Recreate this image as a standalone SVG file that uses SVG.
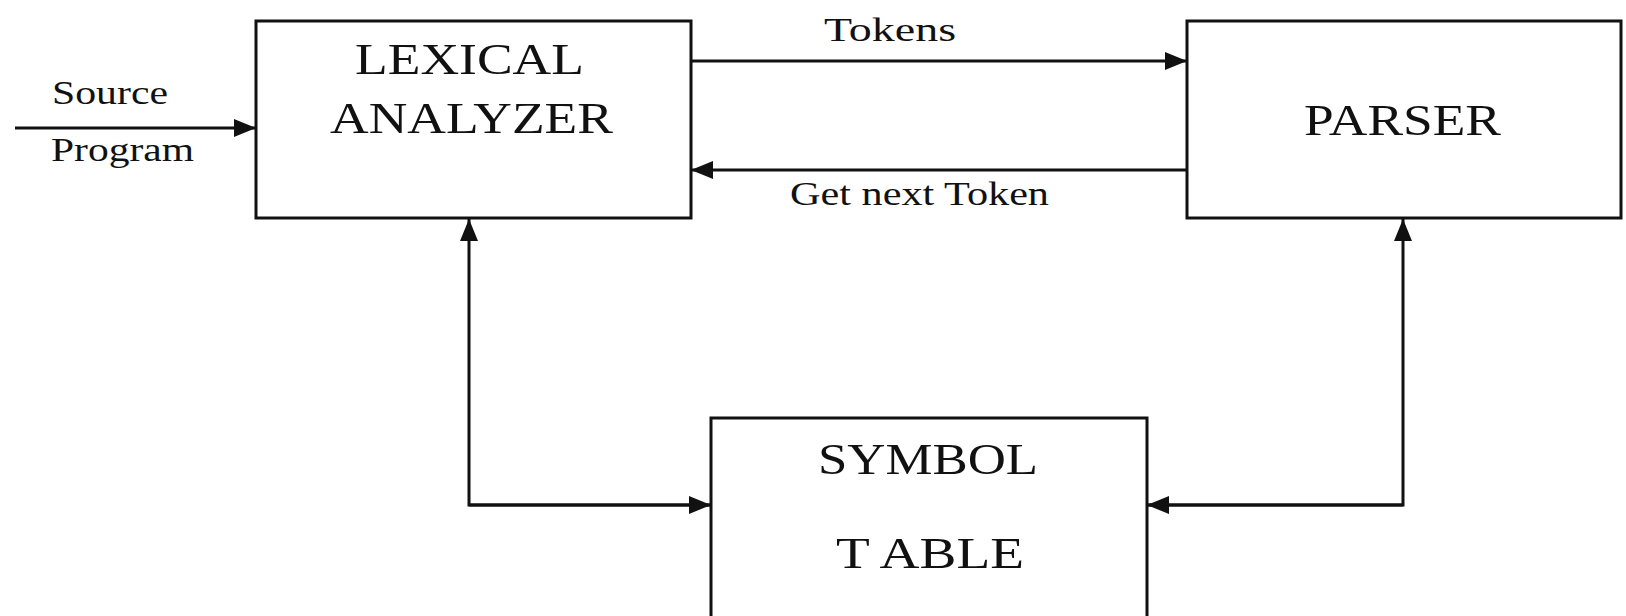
<svg xmlns="http://www.w3.org/2000/svg" width="1626" height="616" viewBox="0 0 1626 616">
  <style>
    .box { fill: #ffffff; stroke: #111111; stroke-width: 3; }
    .link { fill: none; stroke: #111111; stroke-width: 3; }
    .title { font-family: "Liberation Serif", "Times New Roman", serif; font-size: 44px; fill: #111111; }
    .label { font-family: "Liberation Serif", "Times New Roman", serif; font-size: 33px; fill: #111111; }
  </style>
  <defs>
    <marker id="arrow" markerUnits="userSpaceOnUse" markerWidth="24" markerHeight="18" refX="22" refY="9" orient="auto">
      <path d="M0,0 L22,9 L0,18 z" fill="#111111"/>
    </marker>
  </defs>
  <rect width="1626" height="616" fill="#ffffff"/>

  <!-- connectors -->
  <g id="connectors">
    <line class="link" x1="15" y1="128" x2="256" y2="128" marker-end="url(#arrow)"/>
    <line class="link" x1="691" y1="61" x2="1187" y2="61" marker-end="url(#arrow)"/>
    <line class="link" x1="1187" y1="170" x2="691" y2="170" marker-end="url(#arrow)"/>
    <polyline class="link" points="711,505 469,505 469,219" marker-end="url(#arrow)"/>
    <line class="link" x1="469" y1="505" x2="711" y2="505" marker-end="url(#arrow)"/>
    <polyline class="link" points="1147,505 1403,505 1403,219" marker-end="url(#arrow)"/>
    <line class="link" x1="1403" y1="505" x2="1147" y2="505" marker-end="url(#arrow)"/>
    <text class="label" x="52" y="104" textLength="116" lengthAdjust="spacingAndGlyphs">Source</text>
    <text class="label" x="51" y="161" textLength="143" lengthAdjust="spacingAndGlyphs">Program</text>
    <text class="label" x="824" y="41" textLength="132" lengthAdjust="spacingAndGlyphs">Tokens</text>
    <text class="label" x="790" y="205" textLength="259" lengthAdjust="spacingAndGlyphs">Get next Token</text>
  </g>

  <!-- lexical analyzer -->
  <g id="lexical-analyzer">
    <rect class="box" x="256" y="21" width="435" height="197"/>
    <text class="title" x="355" y="74" textLength="229" lengthAdjust="spacingAndGlyphs">LEXICAL</text>
    <text class="title" x="330" y="133" textLength="283" lengthAdjust="spacingAndGlyphs">ANALYZER</text>
  </g>

  <!-- parser -->
  <g id="parser">
    <rect class="box" x="1187" y="21" width="434" height="197"/>
    <text class="title" x="1304" y="135" textLength="197" lengthAdjust="spacingAndGlyphs">PARSER</text>
  </g>

  <!-- symbol table -->
  <g id="symbol-table">
    <rect class="box" x="711" y="418" width="436" height="200"/>
    <text class="title" x="818" y="474" textLength="220" lengthAdjust="spacingAndGlyphs">SYMBOL</text>
    <text class="title" x="836" y="568" textLength="188" lengthAdjust="spacingAndGlyphs">T ABLE</text>
  </g>
</svg>
